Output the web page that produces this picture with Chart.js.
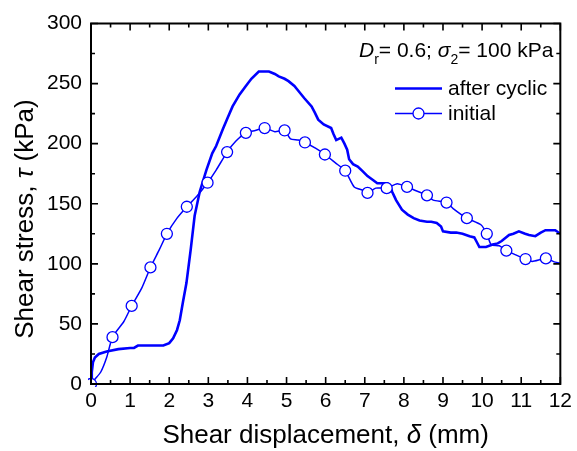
<!DOCTYPE html>
<html>
<head>
<meta charset="utf-8">
<script src="https://cdn.jsdelivr.net/npm/chart.js@4.4.1/dist/chart.umd.min.js"></script>
<style>
html,body{margin:0;padding:0;background:#fff;}
#wrap{width:577px;height:451px;position:relative;}
</style>
</head>
<body>
<div id="wrap"><canvas id="c" width="577" height="451"></canvas></div>
<script>
// ---- data ----
const afterCyclicX = [0, 0.02, 0.05, 0.1, 0.2, 0.4, 0.7, 1.0, 1.1, 1.2, 1.5, 1.85, 2.0, 2.1, 2.2, 2.27, 2.35, 2.44, 2.55, 2.65, 2.78, 2.95, 3.1, 3.2, 3.37, 3.5, 3.62, 3.8, 3.96, 4.1, 4.29, 4.4, 4.55, 4.7, 4.8, 4.95, 5.05, 5.2, 5.3, 5.45, 5.64, 5.72, 5.81, 5.95, 6.14, 6.2, 6.27, 6.4, 6.48, 6.55, 6.6, 6.7, 6.82, 6.95, 7.07, 7.2, 7.32, 7.45, 7.58, 7.65, 7.7, 7.8, 7.95, 8.1, 8.25, 8.4, 8.59, 8.7, 8.84, 8.95, 9.0, 9.2, 9.34, 9.5, 9.68, 9.8, 9.85, 9.93, 10.1, 10.27, 10.4, 10.5, 10.69, 10.8, 10.94, 11.1, 11.2, 11.36, 11.5, 11.62, 11.75, 11.87, 12];
const afterCyclicY = [0, 10, 18, 22, 25, 27, 29, 30, 30, 32, 32, 32, 34, 38, 45, 53, 68, 84, 112, 140, 160, 178, 192, 198, 212, 222, 231, 241, 248, 254, 260, 260, 260, 258, 256, 254, 252, 248, 244, 238, 231, 226, 220, 216, 213, 208, 203, 205, 200, 195, 187, 183, 181, 177, 173, 170, 167, 167, 167, 165, 160, 153, 145, 141, 138, 136, 135, 135, 134, 131, 127, 126, 126, 125, 123, 122, 119, 114, 114, 116, 117, 119, 124, 125, 127, 125, 124, 123, 126, 128, 128, 128, 125];

const initialX = [0, 0.1, 0.25, 0.4, 0.55, 0.84, 1.04, 1.3, 1.52, 1.75, 1.94, 2.2, 2.45, 2.7, 2.98, 3.2, 3.48, 3.7, 3.96, 4.2, 4.44, 4.7, 4.95, 5.1, 5.3, 5.47, 5.75, 5.98, 6.25, 6.5, 6.73, 6.98, 7.07, 7.28, 7.56, 7.83, 8.08, 8.25, 8.59, 8.75, 9.09, 9.26, 9.61, 9.97, 10.12, 10.23, 10.44, 10.62, 10.86, 11.11, 11.28, 11.63, 11.87, 12];
const initialY = [0, 4, 10, 22, 39, 52, 65, 80, 97, 112, 125, 138, 147.5, 156, 167.5, 178, 193, 202, 209, 211, 213, 210, 211, 204, 203, 201, 196, 191, 184, 177.5, 164, 161, 159, 163, 163, 166.7, 164, 161.7, 157, 153, 151, 146, 138, 132.5, 125, 116, 115, 111, 107.5, 104, 102, 104.5, 101.4, 100.5];

const initialMarkX = [0, 0.55, 1.04, 1.52, 1.94, 2.45, 2.98, 3.48, 3.96, 4.44, 4.95, 5.47, 5.98, 6.5, 7.07, 7.56, 8.08, 8.59, 9.09, 9.61, 10.12, 10.62, 11.11, 11.63];
const initialMarkY = [0, 39, 65, 97, 125, 147.5, 167.5, 193, 209, 213, 211, 201, 191, 177.5, 159, 163, 164, 157, 151, 138, 125, 111, 104, 104.5];

const seriesNames = ["after cyclic", "initial"];
const xTitleParts = ["Shear displacement, ", "\u03b4", " (mm)"];
const yTitleParts = ["Shear stress, ", "\u03c4", " (kPa)"];
const xMin = 0, xMax = 12, xStep = 1, xMinor = 0.5;
const yMin = 0, yMax = 300, yStep = 50, yMinor = 25;

// ---- drawing ----
const BLUE = '#0000ff';
const FONT = '"Liberation Sans", Arial, sans-serif';
const zip = (xs, ys) => xs.map((x, i) => ({x: x, y: ys[i]}));

const framePlugin = {
  id: 'frameTicks',
  afterDraw(chart) {
    const ctx = chart.ctx;
    const a = chart.chartArea;
    const xs = chart.scales.x, ys = chart.scales.y;
    ctx.save();
    ctx.strokeStyle = '#000';
    ctx.lineWidth = 1.6;
    ctx.beginPath();
    for (let v = xMin; v <= xMax + 1e-9; v += xMinor) {
      const major = Math.abs(v / xStep - Math.round(v / xStep)) < 1e-6;
      const L = major ? 7 : 4;
      const px = xs.getPixelForValue(v);
      ctx.moveTo(px, a.bottom); ctx.lineTo(px, a.bottom - L);
      ctx.moveTo(px, a.top); ctx.lineTo(px, a.top + L);
    }
    for (let v = yMin; v <= yMax + 1e-9; v += yMinor) {
      const major = Math.abs(v / yStep - Math.round(v / yStep)) < 1e-6;
      const L = major ? 7 : 4;
      const py = ys.getPixelForValue(v);
      ctx.moveTo(a.left, py); ctx.lineTo(a.left + L, py);
      ctx.moveTo(a.right, py); ctx.lineTo(a.right - L, py);
    }
    ctx.stroke();
    ctx.lineWidth = 2;
    ctx.strokeRect(a.left, a.top, a.right - a.left, a.bottom - a.top);

    // axis titles
    ctx.fillStyle = '#000';
    ctx.textBaseline = 'alphabetic';
    const drawParts = (parts, cx, by) => {
      const fonts = ['26px ' + FONT, 'italic 26px ' + FONT, '26px ' + FONT];
      let w = 0; const ws = [];
      parts.forEach((p, i) => { ctx.font = fonts[i]; const m = ctx.measureText(p).width; ws.push(m); w += m; });
      let x = cx - w / 2;
      ctx.textAlign = 'left';
      parts.forEach((p, i) => { ctx.font = fonts[i]; ctx.fillText(p, x, by); x += ws[i]; });
    };
    drawParts(xTitleParts, (a.left + a.right) / 2, 443);
    ctx.save();
    ctx.translate(33, 219);
    ctx.rotate(-Math.PI / 2);
    drawParts(yTitleParts, 0, 0);
    ctx.restore();

    // annotation D_r = 0.6; sigma_2 = 100 kPa
    const big = '21px ' + FONT, bigI = 'italic 21px ' + FONT, sub = '14px ' + FONT;
    let x = 359; const by = 56.5;
    const seg = (t, f, dy) => { ctx.font = f; ctx.fillText(t, x, by + (dy || 0)); x += ctx.measureText(t).width; };
    seg('D', bigI); seg('r', sub, 7); seg('= 0.6; ', big);
    seg('\u03c3', bigI); seg('2', sub, 7); seg('= 100 kPa', big);

    // legend
    ctx.strokeStyle = BLUE;
    ctx.lineWidth = 2.5;
    ctx.beginPath(); ctx.moveTo(395, 88.5); ctx.lineTo(442, 88.5); ctx.stroke();
    ctx.lineWidth = 1.5;
    ctx.beginPath(); ctx.moveTo(395, 113.5); ctx.lineTo(442, 113.5); ctx.stroke();
    ctx.beginPath(); ctx.arc(418.5, 113.5, 5.5, 0, Math.PI * 2);
    ctx.fillStyle = '#fff'; ctx.fill(); ctx.lineWidth = 1.3; ctx.stroke();
    ctx.fillStyle = '#000'; ctx.font = big;
    ctx.fillText(seriesNames[0], 448, 95);
    ctx.fillText(seriesNames[1], 448, 120);
    ctx.restore();
  }
};

new Chart(document.getElementById('c'), {
  type: 'scatter',
  data: {
    datasets: [
      {label: seriesNames[0], data: zip(afterCyclicX, afterCyclicY), showLine: true, borderColor: BLUE, borderWidth: 2.6, pointRadius: 0, tension: 0, order: 2},
      {label: seriesNames[1], data: zip(initialX, initialY), showLine: true, borderColor: BLUE, borderWidth: 1.5, pointRadius: 0, tension: 0.2, order: 1},
      {label: seriesNames[1] + ' markers', data: zip(initialMarkX, initialMarkY), showLine: false, pointRadius: 5.5, pointBorderWidth: 1.3, pointBackgroundColor: '#fff', pointBorderColor: BLUE, clip: 3, order: 0}
    ]
  },
  options: {
    responsive: false,
    animation: false,
    devicePixelRatio: 1,
    layout: {padding: {left: 0, top: 23.5, right: 12, bottom: 0}},
    plugins: {legend: {display: false}, tooltip: {enabled: false}},
    scales: {
      x: {
        type: 'linear', min: xMin, max: xMax,
        grid: {display: false, drawTicks: false},
        border: {display: false},
        ticks: {stepSize: xStep, color: '#000', font: {size: 21, family: FONT}, padding: 5, maxRotation: 0},
        afterFit(s) { s.height = 67; }
      },
      y: {
        type: 'linear', min: yMin, max: yMax,
        grid: {display: false, drawTicks: false},
        border: {display: false},
        ticks: {stepSize: yStep, color: '#000', font: {size: 21, family: FONT}, padding: 9},
        afterFit(s) { s.width = 91; }
      }
    }
  },
  plugins: [framePlugin]
});
</script>
</body>
</html>
